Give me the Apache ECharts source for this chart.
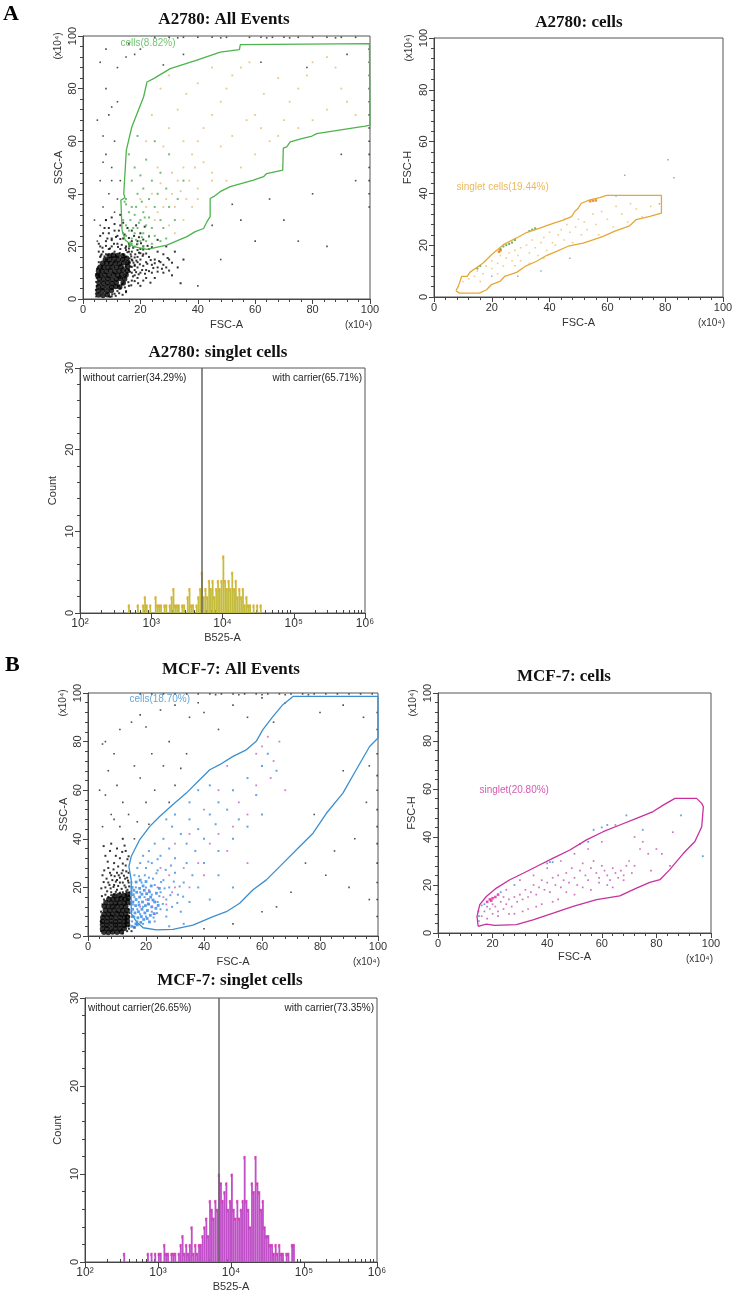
<!DOCTYPE html>
<html>
<head>
<meta charset="utf-8">
<script src="https://cdn.jsdelivr.net/npm/echarts@6.0.0/dist/echarts.min.js"></script>
<style>
html,body{margin:0;padding:0;background:#fff}
#main{width:750px;height:1293px}
</style>
</head>
<body>
<div id="main"></div>
<script>
// ---------- A2780: All Events (FSC-A vs SSC-A, x10^4) ----------
var a2780Core = [[5.5,1.5],[7,1.3],[8.5,1.6],[5.3,3],[6.8,3.1],[8.4,2.9],[9.9,3.2],[5.4,4.6],[6.9,4.4],[8.5,4.7],[10,4.5],[11.4,4.8],
  [5.6,6.1],[7.1,6],[8.6,6.2],[10.1,5.9],[11.6,6.2],[5.7,7.6],[7.2,7.5],[8.7,7.7],[10.2,7.4],[11.7,7.6],[13,7.8],
  [6.1,9],[7.6,9.1],[9.1,8.9],[10.6,9.2],[12.1,9],[13.5,9.3],[6.6,10.6],[8.1,10.5],[9.6,10.7],[11.1,10.4],[12.6,10.6],[14,10.9],
  [7.2,12.1],[8.7,12],[10.2,12.2],[11.7,12],[13.2,12.3],[8.2,13.6],[9.7,13.5],[11.2,13.7],[12.7,13.4],[14.2,13.8],
  [9.3,15],[10.8,15.2],[12.3,14.9],[13.8,15.1],[12.8,4.6],[14,6.1],[14.5,7.6],[15,9.1],[15.4,10.7],[15.6,12.3],[15.7,13.9],
  [15.2,15.5],[13.9,16.4],[12.1,16.5],[10.6,16.6],[9.1,16.4],[7.8,15],[6.8,13.6],[6,12.2],[5.4,10.6],[5.1,9]];
var a2780Halo = [[4.5,2],[4.8,5],[5,9],[5.2,12],[5.5,14],[6,16],[7,18],[8,17],[9,19],[10,20],[11,18],[12,21],[13,19],[14,17],
  [15,16],[16,14],[17,15],[18,13],[16,11],[15,9],[14,6],[13,4],[12,3],[11,2],[10,1],[9.5,0.8],[17,18],[19,16],[20,15],[21,17],
  [22,14],[23,16],[24,13],[25,15],[26,12],[19,12],[20,10],[18,9],[17,7],[22,11],[24,10],[27,14],[28,17],[30,15],[29,12],
  [21,20],[19,22],[16,21],[14,23],[12,24],[10,23],[8,22],[7,25],[6,20],[9,27],[11,26],[13,28],[16,18],[15,20],[17,22],
  [20,19],[23,19],[26,18],[13,8],[14,12],[15,13],[12,16],[11,14],[10,16],[9,14],[8,15],[17,10],[18,11],[16,5],[15,3],
  [19,8],[6.5,17],[5.5,18],[4.8,8],[20,5],[22,8],[25,8],[28,10],[31,9],[33,12],[35,15],[32,18],[29,20],[34,6],
  [6.2,16.5],[7.5,16.2],[8.8,16.8],[10.2,17.2],[11.5,16.4],[12.8,17.5],[14.2,16.6],[15.5,17.8],[16.8,16.2],[18.2,17],[19.5,17.6],
  [20.8,16.4],[22,17.3],[6.8,19.5],[8,20.2],[9.4,19.2],[10.8,21],[12.2,19.8],[13.5,20.6],[14.8,19.4],[16.2,20.1],[17.5,19.5],
  [18.8,20.8],[20.2,21.2],[22.5,20.2],[24,19.7],[8.5,23],[10,22.4],[11.5,23.6],[13,22.8],[14.5,24.5],[16,23.2],[17.8,24],
  [19.5,23.5],[21,22.6],[23,23.8],[26,22.5],[14.8,12.2],[15.8,13.6],[16.5,12.4],[17.6,13.8],[18.6,14.6],[19.8,13.2],[21,12.6],
  [22.4,13.4],[23.6,14.8],[25,13.6],[26.5,14.4],[28,13],[29.5,15.6],[31,13.8],[14.5,8.2],[15.4,9.8],[16.4,10.4],[17.4,8.6],
  [18.5,10.2],[19.4,9.4],[20.6,11],[21.6,9.6],[23,10.6],[24.5,11.8],[26,10.4],[27.5,11.5],[30,10.8],[12.5,5],[13.6,5.6],
  [14.6,4.4],[15.8,6.4],[16.8,5.2],[18,6.8],[19.2,6],[21,7],[23.5,6.2],[9,1],[10.2,1.8],[11.4,1.2],[12.6,2.2],[13.8,1.6],
  [15,2.6],[4.6,1],[4.5,3.5],[4.6,6.5],[4.7,9.5],[4.9,11.5],[7.5,27],[9,25],[11,28.5],[12.5,26],[14,29],[15.5,27],[17,26],
  [18.5,28],[20,25],[21.5,27.5],[6,24],[5.5,21],[8,30],[10,31],[13,32],[16.6,17],[17.2,14.6],[18,15.8],[19,18.6],[16.2,15.4],
  [17,12.2],[18,12.6],[19,14],[20,17.4],[21,18.8],[15,18.6],[16,19.2]];
var a2780Sparse = [[5,22],[6,28],[7,35],[8,30],[9,40],[6,45],[10,50],[8,55],[7,62],[9,70],[10,73],[8,80],[12,88],[15,92],
  [20,95],[6,90],[11,33],[12,38],[10,45],[11,60],[12,75],[5,68],[7,52],[13,45],[4,30],[8,95],[16,97],
  [25,99.5],[30,99.5],[35,99.5],[40,99.5],[45,99.5],[50,99.5],[58,99.5],[62,99.5],[66,99.5],[70,99.5],[75,99.5],[80,99.5],
  [85,99.5],[90,99.5],[95,99.5],[33,99.3],[48,99.3],[64,99.3],[72,99.3],[88,99.3],
  [99.7,95],[99.7,90],[99.7,85],[99.7,80],[99.7,75],[99.7,70],[99.7,65],[99.7,60],[99.7,55],[99.7,50],[99.7,45],[99.7,40],[99.7,35],
  [55,30],[60,22],[75,22],[48,15],[40,5],[65,38],[80,40],[90,55],[70,30],[85,20],[95,45],[52,36],[45,28],
  [62,90],[78,88],[92,93],[28,89],[18,93],[35,93]];
var a2780Green = [[16,20],[17,21],[18,20],[19,21],[20,22],[17,23],[18,25],[16,26],[15,28],[19,27],[21,25],[22,28],[20,30],
  [18,32],[16,33],[15,36],[17,35],[21,33],[23,31],[24,27],[25,24],[22,22],[14,30],[14.5,37],[15,38],[19,40],[21,42],
  [23,38],[25,35],[27,30],[26,40],[24,45],[20,47],[18,50],[22,53],[27,48],[29,42],[30,35],[28,27],[32,30],[17,45],
  [16,55],[25,60],[19,62],[30,55],[35,45],[33,38],[23,24],[21,20],[15,24],[14,25],[24,21],[27,22],[29,23],
  [16.5,21.5],[18.5,22.5],[20.5,23.5],[17.5,27],[19.5,29],[21.5,31],[16.5,30],[18.5,35],[20.5,37]];
var a2780Yellow = [[25,30],[28,35],[31,40],[33,45],[35,50],[38,55],[40,60],[42,65],[45,70],[48,75],[50,80],[52,85],[55,88],
  [58,90],[60,70],[62,65],[65,60],[68,62],[70,68],[72,75],[75,80],[78,85],[80,90],[85,92],[88,88],[90,80],[92,75],[95,70],
  [85,72],[80,68],[75,65],[60,55],[55,50],[50,45],[45,48],[40,42],[38,35],[35,30],[32,25],[30,28],[22,35],[20,38],[26,50],
  [28,58],[30,65],[33,72],[36,78],[40,82],[45,88],[35,60],[42,52],[48,58],[52,62],[57,68],[63,78],[68,84],[24,70],[27,80],
  [30,85],[22,60],[40,38],[45,45],[26,33],[29,38],[32,35],[34,41],[36,38],[27,44],[31,48],[37,45],[39,50],[24,40]];
var a2780Gate = [[13.6,26.2],[13.2,37.6],[14.6,38.5],[14.2,40],[15.1,56.6],[17,65.4],[21.1,76.8],[22.3,82.5],[24.6,83.8],
  [30.4,87.6],[39.7,90.8],[47.8,93.9],[54.5,94.8],[54.8,96.7],[99.8,97.1],[100,66.1],[98.3,65.7],[81.4,62.9],[79.5,61.8],
  [76.2,61],[72.2,59.7],[71,57.8],[69.8,57.4],[69.6,49],[64,47.7],[62.9,46.5],[59.4,45.2],[51.3,42.7],[47.8,40.8],[45.5,38.9],
  [44.3,38.2],[44.3,31.3],[43.2,29.4],[42,26.8],[39.1,25.6],[36.2,23.7],[29.2,20.5],[22.3,18.9],[17.6,19.9],[14.7,22.4]];
var a2780GateText = 'cells(8.82%)';

// ---------- A2780: cells (FSC-A vs FSC-H) ----------
var a2780CellsDots = [[10,6],[12,7],[14,8],[15,10],[17,9],[18,12],[20,11],[20,14],[22,13],[23,16],[24,12],[25,15],[26,17],
  [27,14],[28,18],[29,16],[30,19],[30,14],[32,20],[33,17],[34,22],[35,19],[36,16],[37,21],[38,23],[39,18],[40,25],[41,21],
  [42,20],[43,24],[44,26],[45,22],[46,28],[47,25],[48,21],[49,27],[50,30],[51,24],[52,29],[53,26],[55,32],[56,28],[57,24],
  [58,33],[60,30],[62,27],[63,35],[65,32],[67,29],[68,36],[70,34],[72,31],[75,35],[45,30],[38,15],[33,13],[28,12],[22,9],[16,6]];
var a2780CellsGreen = [[23,18.5],[24,19.5],[25,20],[26,20.5],[27,21],[28,22],[33,25.5],[34,26],[35,26.5],[16,12],[15,11]];
var a2780CellsEdge = [[22.5,17.5],[23,18],[54,37],[55,37.2],[56,37.3]];
var a2780CellsOut = [[81,53],[83,46],[66,47],[47,15],[20,8],[29,8],[37,10],[78,36],[63,39]];
var a2780CellsGate = [[7.6,2.4],[8.8,1.5],[15.7,1.5],[18.2,2.8],[19.9,4.8],[22.8,6],[24.5,8],[28.6,9.5],[31.5,11.8],[35.5,13.8],
  [38.9,16],[42.4,17.6],[46.4,19.6],[51.6,20.8],[54.5,21.9],[58.5,23.4],[62.6,25.4],[67.7,27.5],[70,29.9],[74.7,31.1],[78.7,32.4],
  [78.7,39.2],[59.7,39.2],[57.4,38.4],[53.9,37.5],[51,36.2],[49.9,34.3],[48.7,33],[47.6,31],[44.7,29.7],[41.2,28.4],[36.6,26.6],
  [32,24.9],[28.6,22.8],[24,20.2],[19.9,16.3],[17,13.1],[12.4,9.5],[11.5,8],[9.6,8],[9,7.3],[8.4,4.1]];
var a2780CellsGateText = 'singlet cells(19.44%)';

// ---------- A2780: singlet cells (B525-A histogram) ----------
var a2780HistStart = 2.675;   // log10 of first channel edge
var a2780HistStep = 0.025;
var a2780HistCounts = [1,0,0,0,0, 1,0,0,1,2, 1,0,1,0,0, 2,1,1,1,0, 1,1,0,1,2, 3,1,1,1,0, 1,1,0,2,3, 1,1,0,1,2,
  3,5,2,3,2, 4,3,4,2,3, 4,3,4,7,4, 3,4,3,5,3, 4,2,3,2,3, 1,2,1,1,0, 1,0,1,0,1,0];
var a2780Cut = 5100;
var a2780HistLabels = ['without carrier(34.29%)', 'with carrier(65.71%)'];

// ---------- MCF-7: All Events ----------
var mcfCore = [[5.5,1.5],[7,1.4],[8.5,1.6],[10,1.5],[11.5,1.7],[5,3],[6.5,3.1],[8,2.9],[9.5,3.2],[11,3],[12.5,3.1],
  [5,4.6],[6.5,4.4],[8,4.7],[9.5,4.5],[11,4.6],[12.5,4.4],[13.6,4.7],[5,6.1],[6.5,6],[8,6.2],[9.5,5.9],[11,6.1],[12.5,6],[13.6,6.2],
  [5.1,7.6],[6.6,7.5],[8.1,7.7],[9.6,7.4],[11.1,7.6],[12.6,7.5],[13.6,7.8],[5.5,9],[7,9.1],[8.5,8.9],[10,9.2],[11.5,9],[13,9.1],
  [6,10.6],[7.5,10.5],[9,10.7],[10.5,10.4],[12,10.6],[13.5,10.5],[7,12.1],[8.5,12],[10,12.2],[11.5,12],[13,12.2],
  [8,13.6],[9.5,13.5],[11,13.7],[12.5,13.5],[13.8,13.9],[5.6,12.2],[6.2,13.8],[7.2,15.1],[8.6,15.2],[10,15],[11.4,15.3],
  [12.8,15.1],[13.9,15.6],[9.2,16.6],[10.8,16.8],[12.4,16.7],[13.7,17.2]];
var mcfHalo = [[4.5,2],[4.5,6],[4.5,10],[5,13],[5.5,15],[6,17],[7,16],[8,18],[9,17],[10,19],[11,16],[12,18],[13,20],[14,22],
  [13,17],[12,15],[14,15],[14,11],[14.2,8],[14,4],[13.5,2],[12,1],[6,20],[7,22],[9,21],[11,24],[10,26],[8,25],[12,27],[13,29],
  [7,28],[9,30],[11,32],[13,35],[10,36],[6,33],[8,38],[12,40],[5,25],[14,26],[13.5,24],[12,22],[10,23],[14.3,18],[14.4,13],
  [14.1,3],[14.3,9.5],[15,2],[16,3.5],[6.6,18.4],[7.8,19.6],[8.8,20.2],[10.4,20.6],[11.6,19.4],[12.6,20.8],[13.6,19],[14.2,20.4],
  [7.4,21],[8.4,23],[9.6,22.4],[11,22],[12.8,23.6],[13.8,22.8],[6.4,23.6],[9.2,24.6],[11.6,25.8],[13.2,26.6],[7.6,26],
  [8.8,27.4],[10.4,28.6],[12,29.8],[5.6,27],[6.8,30.6],[9.6,33],[11.8,34.6],[13.6,31.6],[12.6,37.2],[7.6,35],[5.4,37],
  [14,32.8],[4.8,16.4],[4.6,19.6],[5.4,22.2],[14.2,16.6],[13.2,18.4],[11,17.8],[9.6,18.2],[8,16.8],[10.6,25],[12.4,24.8]];
var mcfSparse = [[5,45],[8,50],[6,58],[10,62],[4,60],[7,68],[9,75],[6,80],[5,79],[11,85],[15,88],[18,91],[25,93],[20,86],
  [28,80],[32,69],[35,90],[38,96],[12,55],[16,70],[22,75],[30,95],[40,92],[45,85],[50,95],[55,90],[60,98],[64,88],[68,96],
  [23,60],[18,65],[14,50],[26,70],[30,62],[34,75],[28,55],[20,55],[17,47],[16,40],[21,46],[11,45],[9,48],[80,92],[88,95],
  [95,90],[97,70],[96,55],[85,35],[90,20],[97,15],[75,30],[70,18],[60,10],[50,5],[40,3],[65,12],[82,25],[92,40],[78,50],[88,68],
  [18,99.6],[22,99.6],[26,99.6],[30,99.6],[34,99.6],[38,99.6],[42,99.6],[46,99.6],[50,99.6],[54,99.6],[58,99.6],[62,99.6],
  [66,99.6],[70,99.6],[74,99.6],[78,99.6],[82,99.6],[86,99.6],[90,99.6],[94,99.6],[98,99.6],[44,99.3],[52,99.3],[60,99.3],
  [68,99.3],[76,99.3],[99.7,92],[99.7,85],[99.7,75],[99.7,66],[99.7,60],[99.7,52],[99.7,45],[99.7,38],[99.7,30],[99.7,22],
  [99.7,15],[99.7,8]];
var mcfBlue = [[15,10],[15.5,13],[16,8],[16,16],[16.5,20],[17,11],[17,6],[17.5,14],[18,18],[18,9],[18.5,22],[19,12],[19,5],
  [19.5,16],[20,8],[20,20],[21,13],[21,24],[22,10],[22,17],[23,6],[23,21],[24,14],[24,27],[25,11],[25,18],[26,23],[27,8],
  [27,15],[28,20],[29,12],[30,26],[31,17],[32,10],[33,22],[34,30],[35,14],[36,25],[15,18],[15,22],[15.2,6],[16,25],[17,28],
  [18,30],[19,33],[20,28],[21,35],[22,30],[23,38],[25,33],[26,40],[28,36],[29,45],[30,32],[32,42],[34,38],[35,48],[37,35],
  [38,44],[40,40],[42,50],[44,46],[45,55],[48,52],[50,60],[52,48],[55,65],[58,58],[60,70],[62,75],[65,68],[35,55],[38,60],
  [42,62],[30,50],[27,48],[40,30],[45,35],[50,40],[55,45],[60,50],[45,25],[38,20],[42,15],[50,20],[33,5],[28,4],
  [22.6,7.6],[23.8,9.4],[24.6,16.4],[25.8,13.2],[26.4,19.6],[27.2,10.8],[28.4,16.8],[29.6,22.4],[30.8,13.6],[31.6,20.4],
  [32.8,16.2],[22.4,23.6],[23.6,25.8],[25.2,22.2],[26.8,27.2],[28.6,29],[19.6,25],[20.8,30.6],[17.6,24.6],[24,31.6]];
var mcfBlueDense = [[15.3,8],[15.4,11],[15.5,14],[15.6,17],[16.2,9.5],[16.4,12.5],[16.6,15],[16.5,5],[17.2,7.5],[17.4,10],
  [17.6,12.8],[17.8,16],[18.4,8],[18.6,11],[18.8,14],[19.6,9.5],[19.8,12.5],[20.5,10.5],[20.8,15],[21.5,8.5],[22,12],[23,14],
  [15.2,20],[15.1,4],[16,3.6],[17,4.6],[18.2,5.6],[19.2,6.8],[20.4,7.2],[21.2,5.8],[15.8,18.8],[16.8,18],[17.8,19.6],
  [18.6,17.2],[19.4,18.8],[20.2,17.4],[21.2,18.2],[21.8,20.6],[19,20.6],[16.6,22.2],[18,23],[20,22.4],[21.6,16],[22.4,14.8],
  [23.4,11.4],[22.8,9.2],[24.2,12.6],[23.6,17.6],[24.6,19.6],[20.8,13.2]];
var mcfPurple = [[20,15],[22,12],[24,20],[26,16],[28,25],[30,20],[33,28],[35,20],[38,30],[40,25],[42,38],[45,42],[48,35],
  [52,55],[55,50],[58,62],[60,78],[62,82],[64,72],[66,80],[63,65],[68,60],[45,60],[40,52],[35,42],[30,38],[25,28],[50,45],
  [55,30],[48,70],[58,75],[18,12],[21,19],[23,9],[27,13],[29,18]];
var mcfGate = [[14.9,23.1],[14.1,28.6],[14.9,32.7],[17.8,39.6],[21.3,45.1],[24.7,49.2],[29.3,54.1],[33.9,58.8],[38.5,64.3],
  [42,68.4],[45.4,70.5],[50,73.9],[54.6,76.6],[58,80.1],[60.3,84.9],[63.8,90.4],[67.2,95.2],[70.7,98.6],[100,98.6],[100,81.5],
  [97.1,78],[92.5,68.4],[87.9,58.8],[82.2,50.5],[77.6,42.3],[73,36.8],[67.2,29.9],[61.5,23.1],[56.9,19],[52.3,13.5],[47.7,10],
  [43.1,8],[36.2,4.5],[29.3,2.7],[23.6,2.5],[19,3.4],[16.7,5.9],[14.9,9.3]];
var mcfGateText = 'cells(18.70%)';

// ---------- MCF-7: cells ----------
var mcfCellsDots = [[15,5],[16,7],[17,9],[18,6],[19,10],[20,8],[21,11],[22,9],[23,13],[24,10],[25,12],[26,14],[27,11],[28,15],
  [29,13],[30,16],[31,14],[32,18],[33,15],[34,17],[35,20],[36,16],[37,19],[38,22],[39,18],[40,21],[41,17],[42,23],[43,20],
  [44,24],[45,19],[46,22],[47,25],[48,21],[49,27],[50,23],[51,20],[52,26],[53,29],[54,24],[55,22],[56,27],[57,30],[58,25],
  [59,23],[60,28],[61,26],[62,24],[63,22],[64,27],[65,25],[66,23],[67,26],[68,24],[70,30],[72,28],[74,35],[75,38],[77,33],
  [80,35],[82,33],[86,42],[85,28],[78,26],[72,40],[65,45],[60,38],[55,35],[50,33],[45,30],[40,27],[35,24],[30,22],[25,18],
  [20,12],[22,7],[28,8],[33,10],[38,12],[44,14],[50,16],[56,18],[62,20],[68,22],[18,11],[24,15],[26,8],[31,9],[36,11],[42,13],
  [47,17],[53,19],[59,21],[64,19],[69,28],[71,25]];
var mcfCellsBlue = [[16,11.5],[17,12],[23,17],[28,20],[40,29],[41,29.5],[42,29.5],[52,37],[55,38],[57,43],[60,44],[62,45],
  [69,49],[75,43],[97,32],[89,49],[15,7],[14.8,9]];
var mcfCellsEdge = [[18,13],[19,14],[20,14.5],[21,15],[22,16],[19.5,13.5]];
var mcfCellsGate = [[14.7,2.8],[17.7,3.7],[20.8,3.2],[28.7,3.5],[34.8,5.5],[42.2,8.3],[49.5,11.1],[58.1,13.9],[66.6,15.5],
  [72.7,18.7],[77.6,21.1],[81.3,22.2],[84.8,26.3],[89.9,33.2],[94.1,38.1],[96.6,44.3],[97.2,52.6],[96.6,54],[94.7,56.1],
  [86.8,56.1],[82.5,53.3],[78.8,50.6],[72.7,47.8],[66.6,45],[60.5,42.2],[54.4,38.8],[48.3,34.6],[42.2,31.2],[36.1,27.7],
  [31.2,24.9],[26.3,22.2],[21.4,18.7],[17.7,15.2],[15.3,11.8],[14.3,6.9]];
var mcfCellsGateText = 'singlet(20.80%)';

// ---------- MCF-7: singlet cells ----------
var mcfHistStart = 2.5;
var mcfHistStep = 0.025;
var mcfHistCounts = [0,1,0,0,0, 0,0,0,0,0, 0,0,0,0,1, 0,1,0,1,0, 1,1,0,2,1, 1,0,1,1,1, 0,1,2,3,1, 2,1,2,4,1,
  2,1,2,2,3, 4,5,3,7,6, 5,7,6,10,9, 7,8,9,6,7, 10,6,5,7,5, 6,7,12,7,6, 4,9,8,12,9, 8,6,7,4,3,
  3,2,2,1,2, 1,2,1,1,0, 1,1,0,2,2,0];
var mcfCut = 6800;
var mcfHistLabels = ['without carrier(26.65%)', 'with carrier(73.35%)'];

var scaleTicks = [0, 20, 40, 60, 80, 100];
var logTickLabels = ['10\u00b2', '10\u00b3', '10\u2074', '10\u2075', '10\u2076'];
var titles = ['A2780: All Events', 'A2780: cells', 'A2780: singlet cells', 'MCF-7: All Events', 'MCF-7: cells', 'MCF-7: singlet cells'];

// ---------- layout ----------
var sans = '"Liberation Sans", Arial, sans-serif';
var serif = '"Liberation Serif", "Times New Roman", serif';
var axisColor = '#444';
var textColor = '#333';

var grids = [
  {left: 83, top: 36, width: 287, height: 263},
  {left: 434, top: 38, width: 289, height: 259},
  {left: 80, top: 368, width: 285, height: 245},
  {left: 88, top: 693, width: 290, height: 243},
  {left: 438, top: 693, width: 273, height: 240},
  {left: 85, top: 998, width: 292, height: 264}
];
var titlePos = [[224, 20], [579, 23], [218, 353], [231, 670], [564, 677], [230, 981]];

function linAxis(gi, name, isY, gap) {
  return {
    gridIndex: gi, type: 'value', min: 0, max: 100, interval: 20,
    name: name, nameLocation: 'middle', nameGap: gap,
    nameTextStyle: {fontFamily: sans, fontSize: 11, color: textColor},
    axisLine: {show: true, onZero: false, lineStyle: {color: axisColor}},
    axisTick: {show: true, length: 5, lineStyle: {color: axisColor}},
    minorTick: {show: true, splitNumber: 5, length: 3, lineStyle: {color: axisColor}},
    axisLabel: {fontFamily: sans, fontSize: 11, color: textColor, margin: 5, rotate: isY ? 90 : 0,
      showMinLabel: true, showMaxLabel: true,
      formatter: function (v) { return scaleTicks.indexOf(v) >= 0 ? String(v) : ''; }},
    splitLine: {show: false}
  };
}
function countAxis(gi, gap) {
  var a = linAxis(gi, 'Count', true, gap);
  a.max = 30; a.interval = 10;
  a.axisLabel.formatter = '{value}';
  return a;
}
var decades = [100, 1000, 10000, 100000, 1000000];
var minorVals = [];
decades.slice(0, 4).forEach(function (d) { for (var k = 2; k <= 9; k++) minorVals.push(k * d); });

function logAxis(gi, gap) {
  return {
    gridIndex: gi, type: 'log', logBase: 10, min: 100, max: 1000000, splitNumber: 4,
    name: 'B525-A', nameLocation: 'middle', nameGap: gap,
    nameTextStyle: {fontFamily: sans, fontSize: 11, color: textColor},
    axisLine: {show: true, onZero: false, lineStyle: {color: axisColor}},
    axisTick: {show: true, length: 5, customValues: decades, lineStyle: {color: axisColor}},
    axisLabel: {fontFamily: sans, fontSize: 12, color: textColor, margin: 5, customValues: decades,
      showMinLabel: true, showMaxLabel: true,
      formatter: function (v) { return logTickLabels[Math.round(Math.log10(v)) - 2]; }},
    splitLine: {show: false}
  };
}
function logMinorAxis(gi) {
  return {
    gridIndex: gi, type: 'log', logBase: 10, min: 100, max: 1000000,
    axisLine: {show: false}, axisLabel: {show: false}, splitLine: {show: false},
    axisTick: {show: true, length: 3, customValues: minorVals, lineStyle: {color: axisColor}}
  };
}

function dots(xi, yi, data, color, size, symbol) {
  return {type: 'scatter', xAxisIndex: xi, yAxisIndex: yi, data: data, symbol: symbol || 'rect',
    symbolSize: size, itemStyle: {color: color}, silent: true, animation: false};
}
function gate(xi, yi, pts, color) {
  return {type: 'line', xAxisIndex: xi, yAxisIndex: yi, data: pts.concat([pts[0]]), symbol: 'none',
    lineStyle: {color: color, width: 1.3}, silent: true, animation: false, z: 5};
}
function gateLabel(xi, yi, pos, text, color) {
  return {type: 'scatter', xAxisIndex: xi, yAxisIndex: yi, data: [pos], symbolSize: 1,
    itemStyle: {color: 'rgba(0,0,0,0)'}, silent: true, animation: false, z: 6,
    label: {show: true, position: 'right', distance: 0, formatter: text, color: color, fontFamily: sans, fontSize: 10}};
}
// one rectangle per channel: [left edge, right edge, count]
function hist(xi, yi, start, step, counts, fill, edge, cut) {
  var bins = [];
  counts.forEach(function (c, i) {
    if (c > 0) bins.push([Math.pow(10, start + i * step), Math.pow(10, start + (i + 1) * step), c]);
  });
  return {type: 'custom', xAxisIndex: xi, yAxisIndex: yi, data: bins, encode: {x: [0, 1], y: 2},
    silent: true, animation: false, clip: true,
    renderItem: function (params, api) {
      var p0 = api.coord([api.value(0), 0]);
      var p1 = api.coord([api.value(1), api.value(2)]);
      return {type: 'group', children: [
        {type: 'rect', shape: {x: p0[0], y: p1[1], width: p1[0] - p0[0], height: p0[1] - p1[1]},
          style: {fill: fill}},
        {type: 'polyline', shape: {points: [[p0[0], p1[1] + 3], [p0[0], p1[1]], [p1[0], p1[1]]]},
          style: {stroke: edge, lineWidth: 0.6, fill: null}}
      ]};
    },
    markLine: {silent: true, symbol: ['none', 'none'], label: {show: false}, animation: false,
      lineStyle: {color: '#666', width: 1.5, type: 'solid'}, data: [{xAxis: cut}]}};
}

var green = '#4db34d', orange = '#e6a835', blue = '#3c8fd0', magenta = '#c8309c';

var graphic = [
  {type: 'text', x: 3, y: 3, style: {text: 'A', font: 'bold 22px ' + serif, fill: '#000'}},
  {type: 'text', x: 5, y: 654, style: {text: 'B', font: 'bold 22px ' + serif, fill: '#000'}}
];
titles.forEach(function (t, i) {
  graphic.push({type: 'text', x: titlePos[i][0], y: titlePos[i][1],
    style: {text: t, font: 'bold 17px ' + serif, fill: '#111', align: 'center', verticalAlign: 'middle'}});
});
[0, 1, 3, 4].forEach(function (i) {
  var g = grids[i];
  graphic.push({type: 'text', x: g.left - 25, y: g.top + 10, rotation: Math.PI / 2,
    style: {text: '(x10\u2074)', font: '10px ' + sans, fill: textColor, align: 'center', verticalAlign: 'middle'}});
  graphic.push({type: 'text', x: g.left + g.width + 2, y: g.top + g.height + 26,
    style: {text: '(x10\u2074)', font: '10px ' + sans, fill: textColor, align: 'right', verticalAlign: 'middle'}});
});
[[2, a2780HistLabels], [5, mcfHistLabels]].forEach(function (p) {
  var g = grids[p[0]];
  graphic.push({type: 'text', x: g.left + 3, y: g.top + 10,
    style: {text: p[1][0], font: '10px ' + sans, fill: '#222', verticalAlign: 'middle'}});
  graphic.push({type: 'text', x: g.left + g.width - 3, y: g.top + 10,
    style: {text: p[1][1], font: '10px ' + sans, fill: '#222', align: 'right', verticalAlign: 'middle'}});
});

var myChart = echarts.init(document.getElementById('main'));
myChart.setOption({
  backgroundColor: '#fff',
  animation: false,
  grid: grids.map(function (g) {
    return {left: g.left, top: g.top, width: g.width, height: g.height, show: true,
      borderColor: '#555', borderWidth: 1, backgroundColor: 'transparent'};
  }),
  xAxis: [
    linAxis(0, 'FSC-A', false, 20),
    linAxis(1, 'FSC-A', false, 20),
    logAxis(2, 19),
    logMinorAxis(2),
    linAxis(3, 'FSC-A', false, 20),
    linAxis(4, 'FSC-A', false, 18),
    logAxis(5, 19),
    logMinorAxis(5)
  ],
  yAxis: [
    linAxis(0, 'SSC-A', true, 19),
    linAxis(1, 'FSC-H', true, 21),
    countAxis(2, 22),
    linAxis(3, 'SSC-A', true, 19),
    linAxis(4, 'FSC-H', true, 21),
    countAxis(5, 22)
  ],
  graphic: graphic,
  series: [
    dots(0, 0, a2780Sparse, '#222', 1.6),
    dots(0, 0, a2780Halo, '#000', 2),
    dots(0, 0, a2780Core, '#000', 5.5, 'circle'),
    dots(0, 0, a2780Yellow, '#e3b96a', 1.8),
    dots(0, 0, a2780Green, '#4caf50', 2),
    gate(0, 0, a2780Gate, green),
    gateLabel(0, 0, [12.9, 97.3], a2780GateText, green),

    dots(1, 1, a2780CellsOut, '#7a9aa8', 1.5),
    dots(1, 1, a2780CellsDots, '#e8c070', 1.6),
    dots(1, 1, a2780CellsGreen, '#3ea040', 2),
    dots(1, 1, a2780CellsEdge, '#f07010', 2.5),
    gate(1, 1, a2780CellsGate, orange),
    gateLabel(1, 1, [7.6, 42.3], a2780CellsGateText, orange),

    hist(2, 2, a2780HistStart, a2780HistStep, a2780HistCounts, '#c4bc3c', '#e8a020', a2780Cut),

    dots(4, 3, mcfSparse, '#222', 1.6),
    dots(4, 3, mcfHalo, '#000', 2),
    dots(4, 3, mcfCore, '#000', 5.5, 'circle'),
    dots(4, 3, mcfBlue, '#3a8fe0', 2),
    dots(4, 3, mcfBlueDense, '#2f86e8', 2.8),
    dots(4, 3, mcfPurple, '#c060c8', 1.8),
    gate(4, 3, mcfGate, blue),
    gateLabel(4, 3, [14.1, 97.3], mcfGateText, blue),

    dots(5, 4, mcfCellsDots, '#c050b0', 1.7),
    dots(5, 4, mcfCellsBlue, '#3a8fd0', 1.8),
    dots(5, 4, mcfCellsEdge, '#e0209a', 2.6),
    gate(5, 4, mcfCellsGate, magenta),
    gateLabel(5, 4, [15, 59.3], mcfCellsGateText, magenta),

    hist(6, 5, mcfHistStart, mcfHistStep, mcfHistCounts, '#c050c8', '#e0189c', mcfCut)
  ]
});
</script>
</body>
</html>
